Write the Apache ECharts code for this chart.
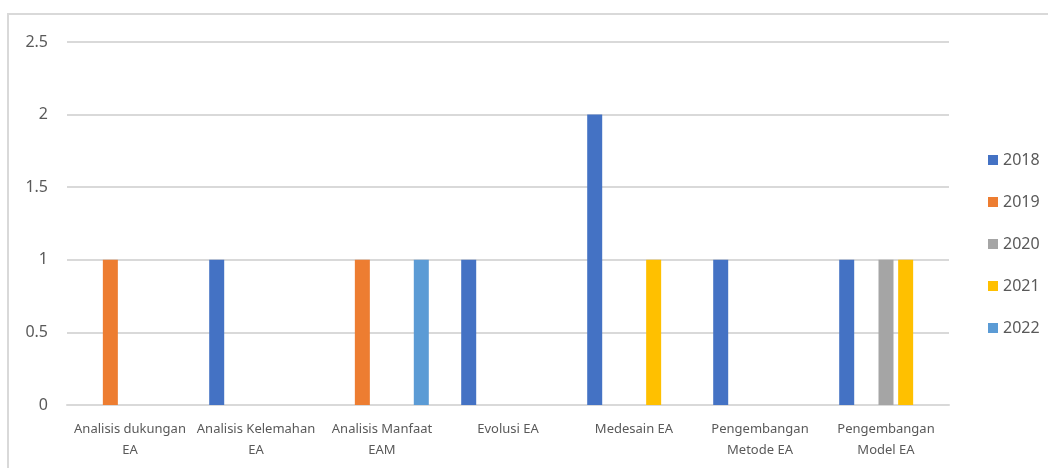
<!DOCTYPE html>
<html>
<head>
<meta charset="utf-8">
<script src="https://cdn.jsdelivr.net/npm/echarts@6/dist/echarts.min.js"></script>
<style>
    html, body { margin: 0; padding: 0; background: #fff; }
    #chart { width: 1048px; height: 468px; }
</style>
</head>
<body>
<div id="chart"></div>
<script>
// 数据
const categories = ['Analisis dukungan\nEA', 'Analisis Kelemahan\nEA', 'Analisis Manfaat\nEAM', 'Evolusi EA', 'Medesain EA', 'Pengembangan\nMetode EA', 'Pengembangan\nModel EA'];
const years = ['2018', '2019', '2020', '2021', '2022'];
const colors = ['#4472C4', '#ED7D31', '#A5A5A5', '#FFC000', '#5B9BD5'];
const data2018 = [null, 1, null, 1, 2, 1, 1];
const data2019 = [1, null, 1, null, null, null, null];
const data2020 = [null, null, null, null, null, null, 1];
const data2021 = [null, null, null, null, 1, null, 1];
const data2022 = [null, null, 1, null, null, null, null];
const yTicks = { min: 0, max: 2.5, interval: 0.5 };

window.addEventListener('DOMContentLoaded', function() {
    const myChart = echarts.init(document.getElementById('chart'));
    const seriesData = [data2018, data2019, data2020, data2021, data2022];
    const font = 'Noto Sans';

    const option = {
        animation: false,
        textStyle: { fontFamily: font },
        graphic: [
            {
                type: 'rect',
                shape: { x: 8, y: 14, width: 1100, height: 500 },
                style: { fill: 'none', stroke: '#d9d9d9', lineWidth: 2 }
            }
        ],
        legend: {
            orient: 'vertical',
            left: 983,
            top: 147,
            itemWidth: 10,
            itemHeight: 10,
            itemGap: 26,
            icon: 'rect',
            textStyle: { fontSize: 16, color: '#595959', fontFamily: font }
        },
        grid: {
            left: 67,
            right: 99,
            top: 42,
            bottom: 63
        },
        xAxis: {
            type: 'category',
            data: categories,
            axisLine: { lineStyle: { color: '#d9d9d9', width: 2 } },
            axisTick: { show: false },
            axisLabel: {
                interval: 0,
                color: '#595959',
                fontSize: 13,
                lineHeight: 21,
                margin: 14,
                fontFamily: font
            }
        },
        yAxis: {
            type: 'value',
            min: yTicks.min,
            max: yTicks.max,
            interval: yTicks.interval,
            axisLine: { show: false },
            axisTick: { show: false },
            splitLine: { lineStyle: { color: '#d9d9d9', width: 2 } },
            axisLabel: {
                color: '#595959',
                fontSize: 16,
                margin: 19,
                fontFamily: font
            }
        },
        series: years.map((y, i) => ({
            name: y,
            type: 'bar',
            data: seriesData[i],
            barWidth: 15,
            barGap: '31%',
            itemStyle: { color: colors[i] }
        }))
    };

    myChart.setOption(option);
});
</script>
</body>
</html>
